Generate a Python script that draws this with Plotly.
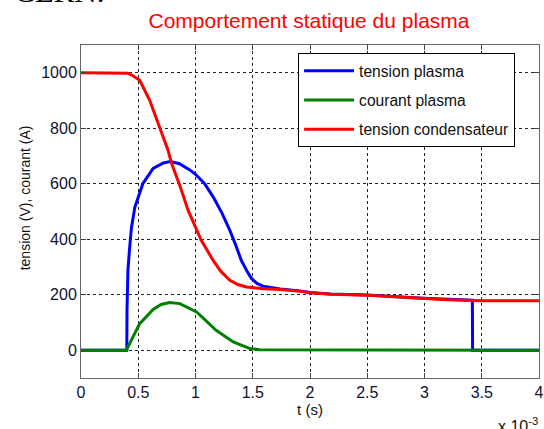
import plotly.graph_objects as go

# ---- data (time in ms; axis shows "x 10^-3" s) ----
t_cond = [0, 0.35, 0.41, 0.45, 0.513, 0.60, 0.688, 0.76, 0.79, 0.862, 0.935, 1.0, 1.05,
          1.154, 1.22, 1.30, 1.37, 1.445, 1.52, 1.59, 1.74, 1.91, 2.0, 2.18, 2.5, 2.99,
          3.2, 3.49, 4.0]
v_cond = [1000, 1000, 998, 990, 973, 901, 805, 721, 675, 595, 505, 444, 396,
          324, 285, 252, 237, 228, 224, 222, 219, 213, 207, 202, 198, 186,
          182, 178, 178]

t_plasma = [0, 0.398, 0.400, 0.402, 0.41, 0.425, 0.44, 0.47, 0.54, 0.63, 0.72, 0.78,
            0.86, 0.95, 1.0, 1.08, 1.155, 1.23, 1.30, 1.35, 1.40, 1.45, 1.49, 1.54,
            1.59, 1.66, 1.74, 1.91, 2.0, 2.18, 2.5, 2.99, 3.2, 3.418, 3.42, 4.0]
v_plasma = [0, 0, 0, 150, 290, 370, 440, 515, 600, 655, 675, 680,
            672, 650, 634, 600, 552, 495, 432, 380, 324, 285, 258, 240,
            231, 226, 221, 214, 208, 203, 199, 187, 183, 180, 0, 0]

t_courant = [0, 0.396, 0.454, 0.513, 0.63, 0.70, 0.775, 0.863, 1.01, 1.18, 1.33, 1.475,
             1.56, 3.42, 3.421, 4.0]
i_courant = [0, 0, 48, 96, 147, 165, 172, 168, 138, 72, 30, 6,
             2, 2, 0, 0]

x_ticks = [0, 0.5, 1, 1.5, 2, 2.5, 3, 3.5, 4]
x_tick_labels = ["0", "0.5", "1", "1.5", "2", "2.5", "3", "3.5", "4"]
y_ticks = [0, 200, 400, 600, 800, 1000]
y_tick_labels = ["0", "200", "400", "600", "800", "1000"]

FONT = "Liberation Sans, Arial, sans-serif"

fig = go.Figure()
fig.add_trace(go.Scatter(x=t_plasma, y=v_plasma, mode="lines", name="tension plasma",
                         line=dict(color="#0000FF", width=3), legendgroup="a"))
fig.add_trace(go.Scatter(x=t_courant, y=i_courant, mode="lines", name="courant plasma",
                         line=dict(color="#008000", width=3), legendgroup="b"))
fig.add_trace(go.Scatter(x=t_cond, y=v_cond, mode="lines", name="tension condensateur",
                         line=dict(color="#FF0000", width=3), legendgroup="c"))

axis_common = dict(
    showgrid=True, gridcolor="#222222", gridwidth=1, griddash="3px,3px",
    ticks="inside", ticklen=5, tickcolor="#444444",
    showline=True, linecolor="#666666", linewidth=1, mirror="ticks",
    zeroline=False, automargin=False,
    tickfont=dict(family=FONT, size=16, color="#111133"),
)

fig.update_layout(
    width=544, height=429,
    margin=dict(l=81, r=5, t=45, b=51),
    paper_bgcolor="white", plot_bgcolor="white",
    title=dict(text="Comportement statique du plasma", x=0.568, xanchor="center",
               xref="container", y=0.953, yanchor="middle",
               font=dict(family=FONT, size=21, color="#FF0000")),
    xaxis=dict(range=[0, 4], tickvals=x_ticks, ticktext=x_tick_labels,
               title=dict(text="t (s)", font=dict(family=FONT, size=15, color="#111111"),
                          standoff=4),
               **axis_common),
    yaxis=dict(range=[-100, 1100], tickvals=y_ticks, ticktext=y_tick_labels,
               **axis_common),
    legend=dict(x=0.474, y=0.976, xanchor="left", yanchor="top",
                bgcolor="white", bordercolor="#000000", borderwidth=1,
                font=dict(family=FONT, size=15.6, color="#111111"),
                itemwidth=50,
                traceorder="grouped", tracegroupgap=6),
    showlegend=True,
)

fig.add_annotation(text="tension (V), courant (A)", xref="paper", yref="paper",
                   x=-0.122, y=0.54, xanchor="center", yanchor="middle",
                   textangle=-90, showarrow=False,
                   font=dict(family=FONT, size=14, color="#111111"))
fig.add_annotation(text="x 10<sup>-3</sup>", xref="paper", yref="paper",
                   x=1.002, y=-0.104, xanchor="right", yanchor="top", showarrow=False,
                   font=dict(family=FONT, size=16, color="#111111"))
fig.add_annotation(text="CERN.", xref="paper", yref="paper",
                   x=-0.15, y=1.103, xanchor="left", yanchor="bottom", showarrow=False,
                   font=dict(family="Liberation Serif, Times New Roman, serif", size=31,
                             color="#000000"))

fig.write_html("out.html", config={"displayModeBar": False},
               post_script="document.body.style.margin='0';document.body.style.overflow='hidden';")
